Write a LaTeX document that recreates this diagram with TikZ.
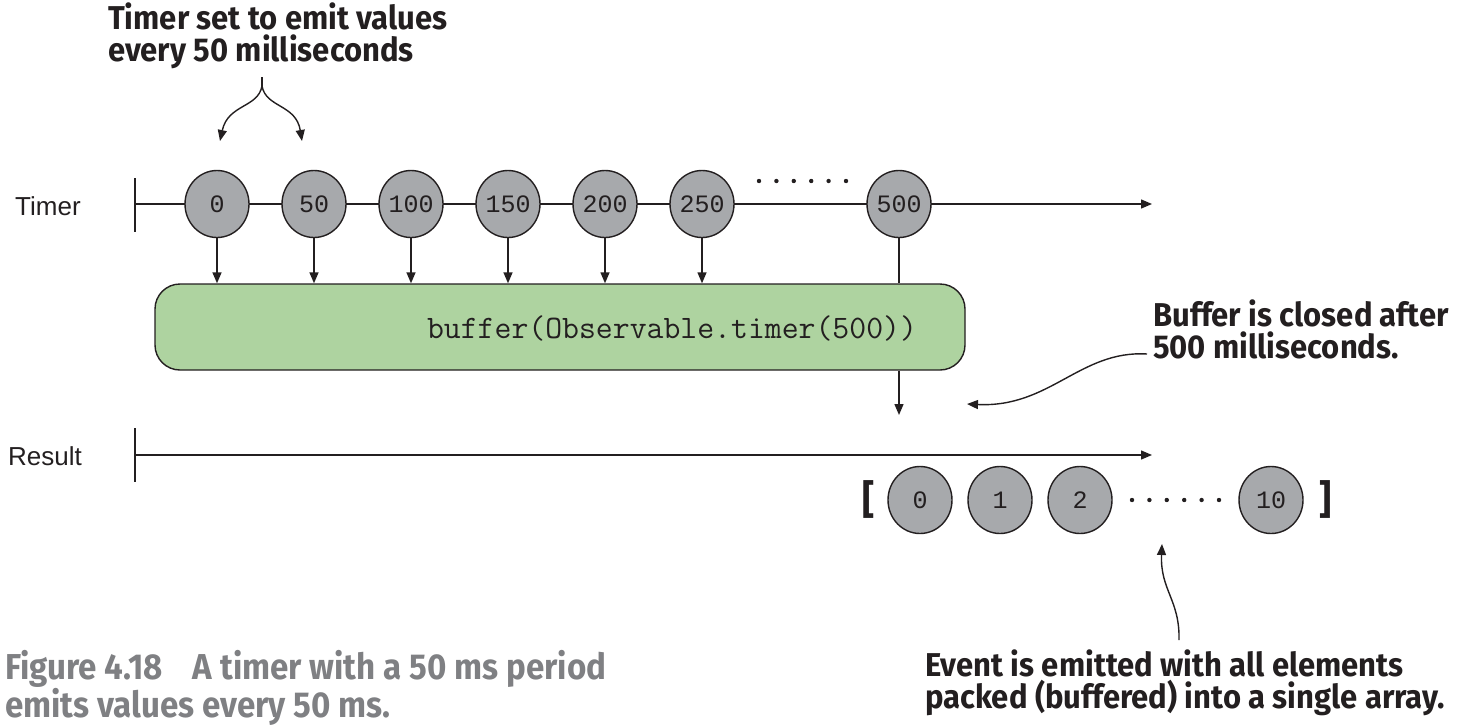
\documentclass[tikz,border=0pt]{standalone}
\usepackage{fontspec}
\setmainfont{Liberation Sans}
\newfontfamily\notefont{Fira Sans}[FakeStretch=0.94]
\newfontfamily\capfont{Fira Sans}[FakeStretch=0.92]
\newfontfamily\valfont{Liberation Mono}
\usetikzlibrary{arrows.meta,shapes.geometric,positioning}

\definecolor{inkc}{HTML}{231F20}
\definecolor{valgray}{HTML}{A7A9AC}
\definecolor{opgreen}{HTML}{AED3A0}
\definecolor{capgray}{HTML}{7F8083}

\tikzset{
    line/.style={line width=1.4pt, draw=inkc},
    arr/.style={line, -{Triangle[length=11pt,width=9pt]}},
    val/.style={ellipse, line, fill=valgray, minimum width=64pt, minimum height=67pt,
        inner sep=0pt, text=inkc, font=\valfont\fontsize{25}{25}\selectfont},
    opbox/.style={rectangle, rounded corners=25pt, line, fill=opgreen,
        minimum width=810pt, minimum height=86pt},
    note/.style={anchor=north west, align=left, inner sep=0pt, text=inkc,
        font=\notefont\bfseries\fontsize{33}{32}\selectfont},
    figcap/.style={anchor=north west, align=left, inner sep=0pt, text=capgray,
        font=\capfont\bfseries\fontsize{36}{31}\selectfont},
    lbl/.style={anchor=west, inner sep=0pt, text=inkc, font=\fontsize{26}{26}\selectfont},
    bracket/.style={inner sep=0pt, text=inkc, font=\notefont\bfseries\fontsize{40}{40}\selectfont},
}

\begin{document}
\begin{tikzpicture}[x=1pt,y=-1pt]
    \useasboundingbox (0,0) rectangle (1481,726);

    % Timer line
    \node[lbl] (timerlbl) at (15,206) {Timer};
    \coordinate (tstart) at (135,204);
    \coordinate (tend) at (1152,204);
    \draw[line] ([yshift=26pt]tstart) -- ([yshift=-28pt]tstart);
    \draw[arr] (tstart) -- (tend);

    % Values of the timer
    \foreach \v [count=\i from 0] in {0,50,100,150,200,250}
        \node[val] (t\i) at (217+97*\i,204) {\v};
    \node[val] (t500) at (899,204) {500};
    \foreach \k in {0,...,5}
        \fill[inkc] (759+17.4*\k,181) circle (2.2pt);

    % The operator
    \node[opbox] (op) at (560,327) {};
    \node[inner sep=0pt, text=inkc, font=\ttfamily\fontsize{32.8}{33}\selectfont]
        (optext) at (672,328) {buffer(Observable.timer(500))};

    \foreach \i in {0,...,5}
        \draw[arr] (t\i) -- (t\i |- op.north);
    \draw[line] (t500) -- (t500 |- op.north);
    \coordinate (drop) at (899,415);
    \draw[arr] (t500 |- op.south) -- (drop);

    % Result line
    \node[lbl] (resultlbl) at (8,456) {Result};
    \coordinate (rstart) at (135,455);
    \coordinate (rend) at (1152,455);
    \draw[line] ([yshift=27pt]rstart) -- ([yshift=-27pt]rstart);
    \draw[arr] (rstart) -- (rend);

    % The emitted array
    \node[bracket] (lb) at (869,499) {[};
    \node[bracket] (rb) at (1326,499) {]};
    \foreach \v/\x in {0/920,1/1000,2/1080,10/1271}
        \node[val] (r\v) at (\x,500) {\v};
    \foreach \k in {0,...,5}
        \fill[inkc] (1132+17.4*\k,500) circle (2.2pt);

    % Notes
    \node[note] (timernote) at (108,3) {Timer set to emit values\\every 50 milliseconds};
    \coordinate (forktop) at (262,77);
    \coordinate (fork) at (262,86);
    \draw[line] (forktop) -- (fork);
    \draw[arr] (fork) .. controls (258,108) and (228,104) .. (220,141);
    \draw[arr] (fork) .. controls (266,108) and (296,104) .. (302,141);

    \node[note] (closenote) at (1153,300) {Buffer is closed after\\500 milliseconds.};
    \coordinate (closefrom) at (1147,354);
    \draw[arr] (closefrom) .. controls (1080,350) and (1050,408) .. (967,404);

    \node[note] (eventnote) at (925,650) {Event is emitted with all elements\\packed (buffered) into a single array.};
    \coordinate (eventfrom) at (1179,640);
    \draw[arr] (eventfrom) .. controls (1180,600) and (1160,590) .. (1162,544);

    % Caption
    \node[figcap] (caption) at (5,650) {Figure 4.18\hspace{30pt}A timer with a 50 ms period\\emits values every 50 ms.};
\end{tikzpicture}
\end{document}
